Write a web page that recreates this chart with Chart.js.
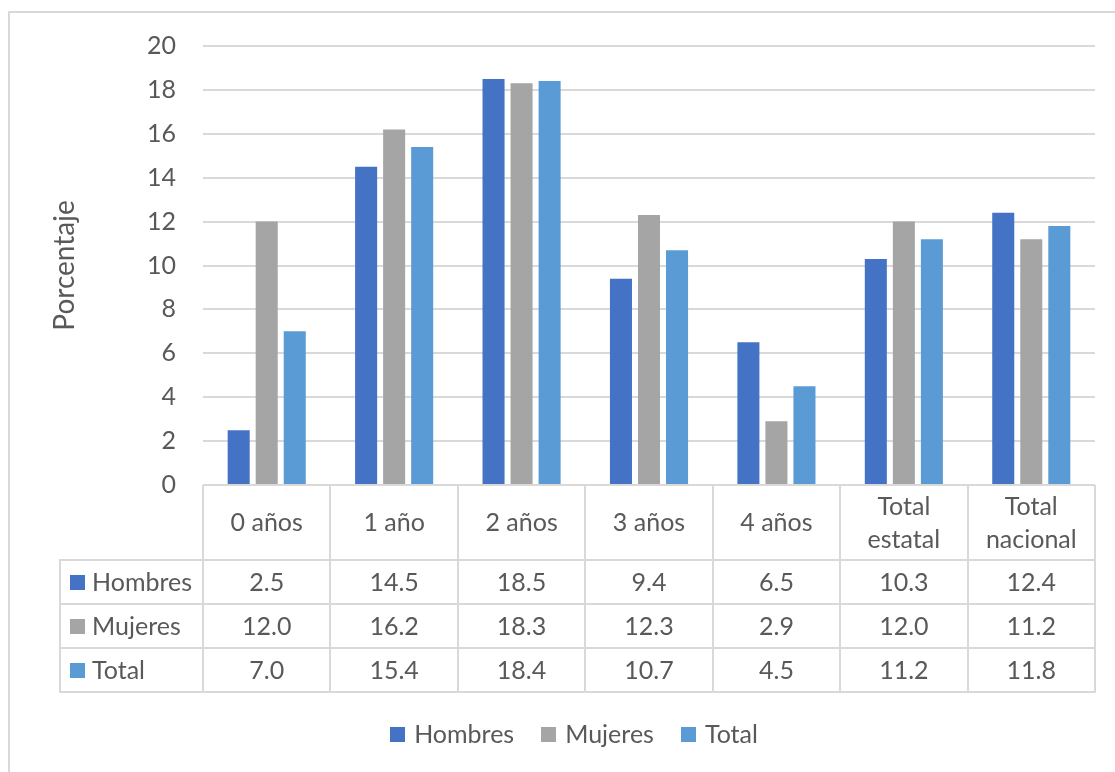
<!DOCTYPE html>
<html>
<head>
<meta charset="utf-8">
<script src="https://cdn.jsdelivr.net/npm/chart.js@4"></script>
<style>
html, body { margin: 0; padding: 0; background: #fff; overflow: hidden; }
#frame { position: absolute; left: 8px; top: 11px; width: 1200px; height: 900px;
  border-top: 2px solid #d9d9d9; border-left: 2px solid #d9d9d9; }
#chart { position: absolute; left: 0; top: 0; }
</style>
</head>
<body>
<div id="frame"></div>
<canvas id="chart" width="1115" height="772"></canvas>
<script>
const categories = ['0 años', '1 año', '2 años', '3 años', '4 años', ['Total', 'estatal'], ['Total', 'nacional']];
const seriesNames = ['Hombres', 'Mujeres', 'Total'];
const hombres = [2.5, 14.5, 18.5, 9.4, 6.5, 10.3, 12.4];
const mujeres = [12.0, 16.2, 18.3, 12.3, 2.9, 12.0, 11.2];
const total = [7.0, 15.4, 18.4, 10.7, 4.5, 11.2, 11.8];
const colors = ['#4472C4', '#A5A5A5', '#5B9BD5'];

const textColor = '#595959';
const lineColor = '#d9d9d9';
const fontSize = 25;

// draws the data table under the plot and the legend at the bottom
const tablePlugin = {
  id: 'dataTable',
  afterDraw(chart) {
    const ctx = chart.ctx;
    const area = chart.chartArea;
    const n = chart.data.labels.length;
    const step = (area.right - area.left) / n;
    const top = area.bottom;
    const headerBottom = top + 75;
    const rowH = 44;
    const tableLeft = 60;
    const rows = chart.data.datasets;
    const tableBottom = headerBottom + rowH * rows.length;

    ctx.save();
    ctx.strokeStyle = lineColor;
    ctx.lineWidth = 2;
    ctx.beginPath();
    // vertical column lines
    for (let i = 0; i <= n; i++) {
      const x = Math.round(area.left + i * step);
      ctx.moveTo(x, top);
      ctx.lineTo(x, tableBottom);
    }
    ctx.moveTo(tableLeft, headerBottom);
    ctx.lineTo(tableLeft, tableBottom);
    // horizontal row lines
    for (let r = 0; r <= rows.length; r++) {
      const y = Math.round(headerBottom + r * rowH);
      ctx.moveTo(tableLeft - 1, y);
      ctx.lineTo(area.right + 1, y);
    }
    ctx.stroke();

    ctx.fillStyle = textColor;
    ctx.font = fontSize + 'px Lato';
    ctx.textAlign = 'center';
    ctx.textBaseline = 'middle';
    const xs = chart.scales.x;
    chart.data.labels.forEach(function(label, i) {
      const cx = xs.getPixelForValue(i);
      const mid = (top + headerBottom) / 2;
      if (Array.isArray(label)) {
        ctx.fillText(label[0], cx, mid - 16);
        ctx.fillText(label[1], cx, mid + 17);
      } else {
        ctx.fillText(label, cx, mid);
      }
    });

    rows.forEach(function(ds, r) {
      const cy = headerBottom + r * rowH + rowH / 2 + 1;
      ctx.fillStyle = ds.backgroundColor;
      ctx.fillRect(70, Math.round(cy - 8), 15, 15);
      ctx.fillStyle = textColor;
      ctx.textAlign = 'left';
      ctx.fillText(ds.label, 92, cy);
      ctx.textAlign = 'center';
      ds.data.forEach(function(v, i) {
        ctx.fillText(v.toFixed(1), xs.getPixelForValue(i), cy);
      });
    });

    // legend
    const widths = rows.map(function(ds) { return 15 + 9 + ctx.measureText(ds.label).width; });
    const gap = 27;
    const totalW = widths.reduce(function(a, b) { return a + b; }, 0) + gap * (rows.length - 1);
    let lx = 574 - totalW / 2;
    const ly = 735;
    rows.forEach(function(ds, r) {
      ctx.fillStyle = ds.backgroundColor;
      ctx.fillRect(Math.round(lx), ly - 8, 15, 15);
      ctx.fillStyle = textColor;
      ctx.textAlign = 'left';
      ctx.fillText(ds.label, lx + 24, ly);
      lx += widths[r] + gap;
    });
    ctx.restore();
  }
};

function build() {
  Chart.defaults.font.family = 'Lato';
  Chart.defaults.font.size = fontSize;
  Chart.defaults.color = textColor;

  new Chart(document.getElementById('chart'), {
    type: 'bar',
    plugins: [tablePlugin],
    data: {
      labels: categories,
      datasets: [
        { label: seriesNames[0], data: hombres, backgroundColor: colors[0] },
        { label: seriesNames[1], data: mujeres, backgroundColor: colors[1] },
        { label: seriesNames[2], data: total, backgroundColor: colors[2] },
      ],
    },
    options: {
      responsive: false,
      animation: false,
      categoryPercentage: 0.66,
      barPercentage: 0.786,
      layout: { padding: { left: 10, top: 46, right: 20, bottom: 0 } },
      plugins: {
        legend: { display: false },
        tooltip: { enabled: false },
      },
      scales: {
        x: {
          grid: { display: false },
          border: { display: false },
          ticks: { display: false },
          afterFit: function(scale) { scale.height = 287; },
        },
        y: {
          min: 0,
          max: 20,
          ticks: { stepSize: 2, padding: 27, color: textColor },
          grid: { color: lineColor, lineWidth: 2, drawTicks: false },
          border: { display: false },
          title: {
            display: true,
            text: 'Porcentaje',
            color: textColor,
            font: { size: 28 },
            padding: { top: 38, bottom: 0 },
          },
          afterFit: function(scale) { scale.width = 193; },
        },
      },
    },
  });
}

if (document.fonts && document.fonts.load) {
  document.fonts.load(fontSize + 'px Lato').then(build, build);
} else {
  build();
}
</script>
</body>
</html>
